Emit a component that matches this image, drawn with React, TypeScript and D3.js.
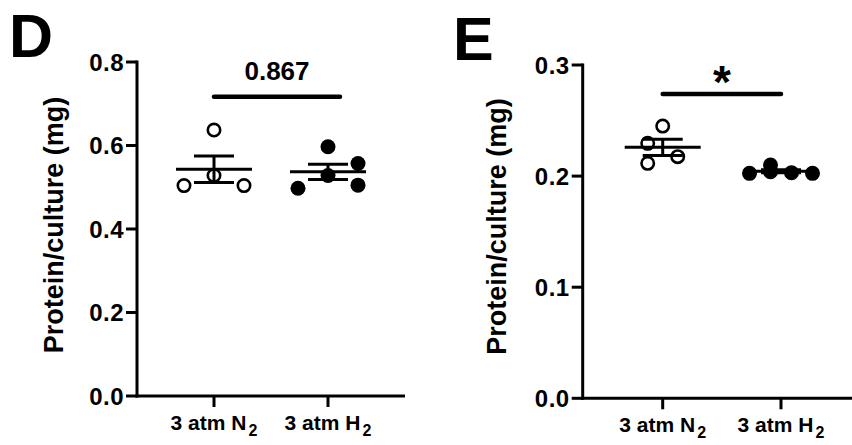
import React from 'react';
import * as d3 from 'd3';

// categories
const groups = ['N2', 'H2'];
const groupLabels = ['3 atm N', '3 atm H'];

// panel D values (mg protein per culture)
const dN2 = [0.637, 0.504, 0.528, 0.504];
const dH2 = [0.4975, 0.597, 0.528, 0.557, 0.505];
// horizontal scatter of the dots, in dot widths
const dN2Spread = [0, -2, 0, 2];
const dH2Spread = [-2, 0, 0, 2, 2];
const dTicks = [0, 0.2, 0.4, 0.6, 0.8];

// panel E values
const eN2 = [0.245, 0.2295, 0.2175, 0.2115];
const eH2 = [0.2025, 0.21, 0.203, 0.2025, 0.204];
const eN2Spread = [0, -1, 1, -1];
const eH2Spread = [-2.1, -0.7, 0.7, 2.1, -0.7];
const eTicks = [0, 0.1, 0.2, 0.3];

const FONT = '"Liberation Sans", Arial, Helvetica, sans-serif';

const Panel = ({ cfg }) => {
  const y = d3.scaleLinear().domain(cfg.domain).range([cfg.bottom, cfg.top]);
  const x = d3.scalePoint().domain(groups).range(cfg.centers);
  const dot = 15;

  const stats = cfg.series.map((vals) => {
    const m = d3.mean(vals);
    const sem = d3.deviation(vals) / Math.sqrt(vals.length);
    return { m, sem };
  });

  return (
    <g>
      {/* panel letter */}
      <text x={cfg.letterX} y={cfg.letterY} fontFamily={FONT} fontWeight="bold" fontSize={61}>
        {cfg.letter}
      </text>

      {/* y axis */}
      <line x1={cfg.left} x2={cfg.left} y1={y(cfg.domain[1]) - 1.5} y2={cfg.bottom + 1.5} stroke="#000" strokeWidth={3} />
      {cfg.ticks.map((t) => (
        <g key={t}>
          <line x1={cfg.left - 11} x2={cfg.left} y1={y(t)} y2={y(t)} stroke="#000" strokeWidth={3} />
          <text x={cfg.left - 13} y={y(t) + 8.5} textAnchor="end" fontFamily={FONT} fontWeight="bold" fontSize={24} letterSpacing={0.5}>
            {d3.format('.1f')(t)}
          </text>
        </g>
      ))}
      <text
        transform={`translate(${cfg.labelX},${cfg.labelY}) rotate(-90)`}
        textAnchor="middle"
        fontFamily={FONT}
        fontWeight="bold"
        fontSize={27}
      >
        Protein/culture (mg)
      </text>

      {/* x axis */}
      <line x1={cfg.left - 1.5} x2={cfg.right} y1={cfg.bottom} y2={cfg.bottom} stroke="#000" strokeWidth={3} />
      {groups.map((g, i) => (
        <g key={g}>
          <line x1={x(g)} x2={x(g)} y1={cfg.bottom} y2={cfg.bottom + 11} stroke="#000" strokeWidth={3} />
          <text x={x(g)} y={cfg.bottom + 34} textAnchor="middle" fontFamily={FONT} fontWeight="bold" fontSize={21}>
            {groupLabels[i]}
            <tspan dx={2} dy={6} fontSize={16}>2</tspan>
          </text>
        </g>
      ))}

      {/* dots */}
      {cfg.series.map((vals, i) =>
        vals.map((v, j) => (
          <circle
            key={`${i}-${j}`}
            cx={x(groups[i]) + cfg.spread[i][j] * dot}
            cy={y(v)}
            r={i === 0 ? 6.2 : 7.5}
            fill={i === 0 ? 'none' : '#000'}
            stroke={i === 0 ? '#000' : 'none'}
            strokeWidth={2.6}
          />
        ))
      )}

      {/* mean and SEM */}
      {stats.map((s, i) => {
        const cx = x(groups[i]);
        return (
          <g key={i} stroke="#000" strokeWidth={3}>
            <line x1={cx - 38} x2={cx + 38} y1={y(s.m)} y2={y(s.m)} />
            <line x1={cx} x2={cx} y1={y(s.m + s.sem)} y2={y(s.m - s.sem)} />
            <line x1={cx - 20} x2={cx + 20} y1={y(s.m + s.sem)} y2={y(s.m + s.sem)} />
            <line x1={cx - 20} x2={cx + 20} y1={y(s.m - s.sem)} y2={y(s.m - s.sem)} />
          </g>
        );
      })}

      {/* significance */}
      <line
        x1={x(groups[0])}
        x2={x(groups[1]) + cfg.barExtend}
        y1={cfg.barY}
        y2={cfg.barY}
        stroke="#000"
        strokeWidth={4.5}
        strokeLinecap="round"
      />
      <text
        x={(x(groups[0]) + x(groups[1]) + cfg.barExtend) / 2}
        y={cfg.sigY}
        textAnchor="middle"
        fontFamily={FONT}
        fontWeight="bold"
        fontSize={cfg.sigSize}
      >
        {cfg.sig}
      </text>
    </g>
  );
};

const panels = [
  {
    letter: 'D', letterX: 9, letterY: 57,
    domain: [0, 0.8], ticks: dTicks, top: 62, bottom: 396,
    left: 137, right: 405, centers: [214, 328],
    labelX: 63, labelY: 225,
    series: [dN2, dH2], spread: [dN2Spread, dH2Spread],
    barY: 96.7, barExtend: 12, sig: '0.867', sigY: 80, sigSize: 26,
  },
  {
    letter: 'E', letterX: 453, letterY: 60,
    domain: [0, 0.3], ticks: eTicks, top: 65, bottom: 398.3,
    left: 582.7, right: 852, centers: [662.7, 781],
    labelX: 506, labelY: 226.5,
    series: [eN2, eH2], spread: [eN2Spread, eH2Spread],
    barY: 94, barExtend: 0, sig: '*', sigY: 98, sigSize: 46,
  },
];

export default function App() {
  return (
    <svg width={852} height={445} style={{ position: 'absolute', left: 0, top: 0, background: '#fff' }}>
      {panels.map((p) => (
        <Panel key={p.letter} cfg={p} />
      ))}
    </svg>
  );
}
